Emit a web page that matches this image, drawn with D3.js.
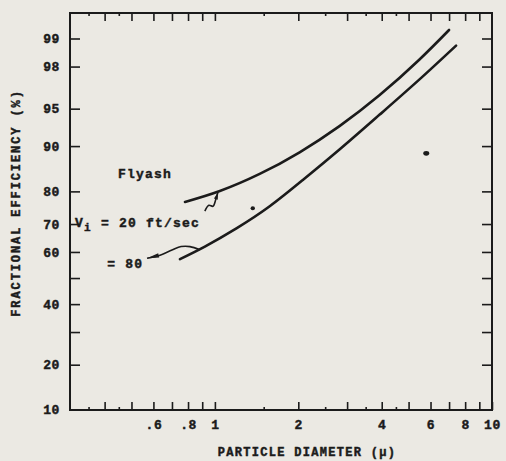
<!DOCTYPE html>
<html>
<head>
<meta charset="utf-8">
<script src="https://cdn.jsdelivr.net/npm/d3@7"></script>
<style>
  body { margin: 0; background: #ebe9e3; }
  svg text { font-family: "Liberation Mono", "DejaVu Sans Mono", monospace; font-weight: bold; fill: #1b1b1b; stroke: #1b1b1b; stroke-width: 0.45px; }
</style>
</head>
<body>
<div id="vis"></div>
<script>
// Data (diameter in microns, efficiency in %)
const upperDiam = [0.78, 1.042, 1.451, 2.022, 2.816, 3.923, 5.463, 7.0];
const upperEff  = [77.0, 80.1, 84.4, 88.9, 93.0, 96.2, 98.3, 99.2];
const lowerDiam = [0.748, 0.92, 1.2, 1.577, 2.073, 2.816, 3.923, 5.463, 7.42];
const lowerEff  = [57.3, 62.0, 68.6, 75.7, 82.9, 89.4, 94.35, 97.3, 98.8];
const specks = [{ d: 1.37, p: 75.1 }, { d: 5.79, p: 88.7 }];

// Axis ticks
const yTicks = [10, 20, 40, 60, 70, 80, 90, 95, 98, 99];
const yMinor = [30, 50];
const xMajor = [0.4, 0.5, 0.6, 0.7, 0.8, 0.9, 1, 2, 3, 4, 5, 6, 7, 8, 9];
const xMinor = [0.35, 0.45, 1.5, 2.5, 3.5, 4.5];
const xLabels = { 0.6: '.6', 0.8: '.8', 1: '1', 2: '2', 4: '4', 6: '6', 8: '8', 10: '10' };

// Annotation leaders, in data units
const leader20 = [[0.92, 74.2], [0.951, 76.0], [0.984, 75.7], [1.008, 77.8], [1.025, 79.7]];
const leader80 = [[0.569, 57.6], [0.634, 58.8], [0.70, 60.7], [0.755, 62.0], [0.813, 62.0], [0.883, 60.8]];

const W = 506, H = 461;
const frame = { left: 70, right: 492, top: 13, bottom: 410 };
const ink = '#1b1b1b';

// inverse normal CDF (Acklam) for the probability axis
function probit(p) {
    const a = [-39.6968302866538, 220.946098424521, -275.928510446969, 138.357751867269, -30.6647980661472, 2.50662827745924];
    const b = [-54.4760987982241, 161.585836858041, -155.698979859887, 66.8013118877197, -13.2806815528857];
    const c = [-0.00778489400243029, -0.322396458041136, -2.40075827716184, -2.54973253934373, 4.37466414146497, 2.93816398269878];
    const d = [0.00778469570904146, 0.32246712907004, 2.445134137143, 3.75440866190742];
    const pl = 0.02425;
    let q, r;
    if (p < pl) {
        q = Math.sqrt(-2 * Math.log(p));
        return (((((c[0]*q+c[1])*q+c[2])*q+c[3])*q+c[4])*q+c[5]) / ((((d[0]*q+d[1])*q+d[2])*q+d[3])*q+1);
    } else if (p <= 1 - pl) {
        q = p - 0.5; r = q * q;
        return (((((a[0]*r+a[1])*r+a[2])*r+a[3])*r+a[4])*r+a[5])*q / (((((b[0]*r+b[1])*r+b[2])*r+b[3])*r+b[4])*r+1);
    } else {
        q = Math.sqrt(-2 * Math.log(1 - p));
        return -(((((c[0]*q+c[1])*q+c[2])*q+c[3])*q+c[4])*q+c[5]) / ((((d[0]*q+d[1])*q+d[2])*q+d[3])*q+1);
    }
}

const xScale = d3.scaleLog().domain([0.3, 10]).range([frame.left, frame.right]);
const zScale = d3.scaleLinear().domain([probit(0.10), probit(0.99)]).range([frame.bottom, 38.5]);
const yScale = p => zScale(probit(p / 100));
// minimal scale wrapper so d3.axis can draw the probability axis
const yAxisScale = Object.assign(p => yScale(p), {
    domain: () => [10, 99.5], range: () => [frame.bottom, frame.top],
    copy: function () { return this; }
});

const svg = d3.select('#vis').append('svg')
    .attr('width', W).attr('height', H);

svg.append('rect').attr('width', W).attr('height', H).attr('fill', '#ebe9e3');

// frame
svg.append('rect')
    .attr('x', frame.left).attr('y', frame.top)
    .attr('width', frame.right - frame.left).attr('height', frame.bottom - frame.top)
    .attr('fill', 'none').attr('stroke', ink).attr('stroke-width', 2);

function styleAxis(g) {
    g.select('.domain').remove();
    g.selectAll('line').attr('stroke', ink).attr('stroke-width', 1.6);
    g.selectAll('text').attr('font-size', 13).attr('letter-spacing', 0.6).attr('fill', ink)
        .attr('font-family', '"Liberation Mono", monospace').attr('font-weight', 'bold');
}

// bottom axis
svg.append('g').attr('transform', `translate(0,${frame.bottom})`)
    .call(d3.axisBottom(xScale).tickValues(xMajor.concat([10])).tickSize(-8).tickPadding(10)
        .tickFormat(d => xLabels[d] || ''))
    .call(styleAxis);
svg.append('g').attr('transform', `translate(0,${frame.bottom})`)
    .call(d3.axisBottom(xScale).tickValues(xMinor).tickSize(-3).tickFormat(''))
    .call(styleAxis);

// top axis
svg.append('g').attr('transform', `translate(0,${frame.top})`)
    .call(d3.axisTop(xScale).tickValues(xMajor).tickSize(-8).tickFormat(''))
    .call(styleAxis);
svg.append('g').attr('transform', `translate(0,${frame.top})`)
    .call(d3.axisTop(xScale).tickValues(xMinor).tickSize(-3).tickFormat(''))
    .call(styleAxis);

// left axis (probability)
svg.append('g').attr('transform', `translate(${frame.left},0)`)
    .call(d3.axisLeft(yAxisScale).tickValues(yTicks.concat(yMinor).filter(v => v > 10)).tickSize(-10).tickPadding(10)
        .tickFormat(d => yMinor.includes(d) ? '' : d))
    .call(styleAxis);
// label for 10 at the corner
svg.append('text').attr('x', frame.left - 10).attr('y', yScale(10)).attr('dy', '0.32em')
    .attr('text-anchor', 'end').attr('font-size', 13).attr('letter-spacing', 0.6).text('10');

// right axis
svg.append('g').attr('transform', `translate(${frame.right},0)`)
    .call(d3.axisRight(yAxisScale).tickValues(yTicks.filter(v => v > 10).concat(yMinor)).tickSize(-10).tickFormat(''))
    .call(styleAxis);

// curves
const line = d3.line().x(d => xScale(d[0])).y(d => yScale(d[1])).curve(d3.curveNatural);
const upper = upperDiam.map((d, i) => [d, upperEff[i]]);
const lower = lowerDiam.map((d, i) => [d, lowerEff[i]]);
svg.selectAll('.curve').data([upper, lower]).join('path')
    .attr('class', 'curve')
    .attr('d', line)
    .attr('fill', 'none').attr('stroke', ink).attr('stroke-width', 2.6).attr('stroke-linecap', 'round');

// specks
svg.selectAll('.speck').data(specks).join('ellipse')
    .attr('class', 'speck')
    .attr('cx', d => xScale(d.d)).attr('cy', d => yScale(d.p))
    .attr('rx', (d, i) => i ? 3 : 2.2).attr('ry', (d, i) => i ? 2.3 : 2)
    .attr('fill', ink);

// leaders
const leaderLine = d3.line().x(d => xScale(d[0])).y(d => yScale(d[1])).curve(d3.curveCatmullRom);
svg.append('path').attr('d', leaderLine(leader20))
    .attr('fill', 'none').attr('stroke', ink).attr('stroke-width', 1.6);
svg.append('path').attr('d', leaderLine(leader80))
    .attr('fill', 'none').attr('stroke', ink).attr('stroke-width', 1.6);
// arrow tip near the "80" label
const tip = leader80[0], nxt = leader80[1];
const tx = xScale(tip[0]), ty = yScale(tip[1]);
const ang = Math.atan2(yScale(nxt[1]) - ty, xScale(nxt[0]) - tx);
svg.append('path')
    .attr('d', `M0,0 L12,-2.2 L12,2.2 Z`)
    .attr('transform', `translate(${tx},${ty}) rotate(${ang * 180 / Math.PI})`)
    .attr('fill', ink);
// arrow tip at the upper curve
const t2 = leader20[leader20.length - 1], p2 = leader20[leader20.length - 2];
const t2x = xScale(t2[0]), t2y = yScale(t2[1]);
const ang2 = Math.atan2(yScale(p2[1]) - t2y, xScale(p2[0]) - t2x);
svg.append('path')
    .attr('d', `M0,0 L7,-2 L7,2 Z`)
    .attr('transform', `translate(${t2x},${t2y}) rotate(${ang2 * 180 / Math.PI})`)
    .attr('fill', ink);

// annotation text
svg.append('text').attr('x', xScale(0.447)).attr('y', yScale(83.5))
    .attr('font-size', 13).attr('letter-spacing', 1.2).text('Flyash');
const vt = svg.append('text').attr('x', xScale(0.313)).attr('y', yScale(68.9))
    .attr('font-size', 13).attr('letter-spacing', 1.2);
vt.append('tspan').text('V');
vt.append('tspan').attr('dy', 4).attr('font-size', 11).text('i');
vt.append('tspan').attr('dy', -4).text(' = 20 ft/sec');
svg.append('text').attr('x', xScale(0.409)).attr('y', yScale(53.8))
    .attr('font-size', 13).attr('letter-spacing', 1.2).text('= 80');

// axis titles
svg.append('text')
    .attr('x', 307).attr('y', 456)
    .attr('text-anchor', 'middle').attr('font-size', 12).attr('letter-spacing', 1.3)
    .text('PARTICLE DIAMETER (\u03bc)');
svg.append('text')
    .attr('transform', `translate(20,203) rotate(-90)`)
    .attr('text-anchor', 'middle').attr('font-size', 12).attr('letter-spacing', 1.9)
    .text('FRACTIONAL EFFICIENCY (%)');
</script>
</body>
</html>
